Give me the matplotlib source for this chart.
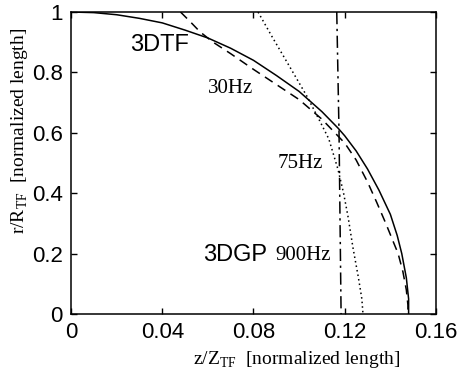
import matplotlib
matplotlib.use('Agg')
import matplotlib.pyplot as plt

plt.rcParams['font.family'] = 'Liberation Sans'
plt.rcParams['mathtext.fontset'] = 'custom'
plt.rcParams['mathtext.rm'] = 'Liberation Serif'

# 3DTF (solid)
tf_z = [0.0, 0.01, 0.02, 0.03, 0.04, 0.05, 0.06, 0.07, 0.08, 0.09, 0.10, 0.11,
        0.117, 0.12, 0.125, 0.13, 0.135, 0.14, 0.143, 0.145, 0.147, 0.148, 0.148]
tf_r = [1.0, 0.998, 0.991, 0.979, 0.964, 0.94, 0.914, 0.88, 0.84, 0.79, 0.737, 0.67,
        0.616, 0.59, 0.54, 0.48, 0.41, 0.33, 0.26, 0.2, 0.12, 0.05, 0.0]

# 30Hz (dashed)
hz30_z = [0.048, 0.052, 0.0566, 0.0623, 0.07, 0.08, 0.09, 0.10, 0.11, 0.12,
          0.125, 0.13, 0.134, 0.138, 0.1415, 0.1434, 0.1455, 0.147, 0.1477, 0.1477]
hz30_r = [1.0, 0.97, 0.934, 0.90, 0.862, 0.81, 0.76, 0.71, 0.645, 0.566,
          0.51, 0.437, 0.37, 0.3, 0.235, 0.2, 0.14, 0.08, 0.03, 0.0]

# 75Hz (dotted)
hz75_z = [0.082, 0.088, 0.095, 0.1035, 0.109, 0.113, 0.117, 0.1195, 0.1215,
          0.1236, 0.126, 0.1275, 0.128]
hz75_r = [1.0, 0.92, 0.83, 0.72, 0.64, 0.58, 0.48, 0.40, 0.32, 0.22, 0.12, 0.05, 0.0]

# 900Hz / 3DGP (dash-dot)
hz900_z = [0.1165, 0.1175, 0.1184]
hz900_r = [1.0, 0.6, 0.0]

xticks = [0, 0.04, 0.08, 0.12, 0.16]
xtick_labels = ['0', '0.04', '0.08', '0.12', '0.16']
yticks = [0, 0.2, 0.4, 0.6, 0.8, 1]
ytick_labels = ['0', '0.2', '0.4', '0.6', '0.8', '1']

fig = plt.figure(figsize=(4.57, 3.73), dpi=100)
ax = fig.add_axes([0.1554, 0.1582, 0.7986, 0.8096])

ax.plot(tf_z, tf_r, color='black', lw=1.1, ls='-')
ax.plot(hz30_z, hz30_r, color='black', lw=1.1, ls=(0, (6, 4)))
ax.plot(hz75_z, hz75_r, color='black', lw=1.1, ls=(0, (1, 2)))
ax.plot(hz900_z, hz900_r, color='black', lw=1.1, ls=(0, (8, 3, 1.5, 3)))

ax.set_xlim(0, 0.16)
ax.set_ylim(0, 1)
ax.set_xticks(xticks)
ax.set_xticklabels(xtick_labels)
ax.set_yticks(yticks)
ax.set_yticklabels(ytick_labels)
ax.tick_params(direction='in', length=4, width=1, labelsize=16,
               top=True, right=True, pad=6)
for s in ax.spines.values():
    s.set_linewidth(1.1)

ax.text(0.0386, 0.892, '3DTF', fontsize=17, ha='center', va='center')
ax.text(0.0721, 0.195, '3DGP', fontsize=17, ha='center', va='center')
serif = 'Liberation Serif'
ax.text(0.0701, 0.748, '30Hz', fontsize=15, family=serif, ha='center', va='center')
ax.text(0.1004, 0.50, '75Hz', fontsize=15, family=serif, ha='center', va='center')
ax.text(0.1017, 0.195, '900Hz', fontsize=15, family=serif, ha='center', va='center')

fig.text(0.648, 0.035, r'z/Z$_{\mathrm{TF}}$  [normalized length]', fontsize=14,
         family=serif, ha='center', va='center')
fig.text(0.042, 0.649, r'r/R$_{\mathrm{TF}}$  [normalized length]', fontsize=14,
         family=serif, ha='center', va='center', rotation=90)

fig.savefig('out.png', dpi=100)
